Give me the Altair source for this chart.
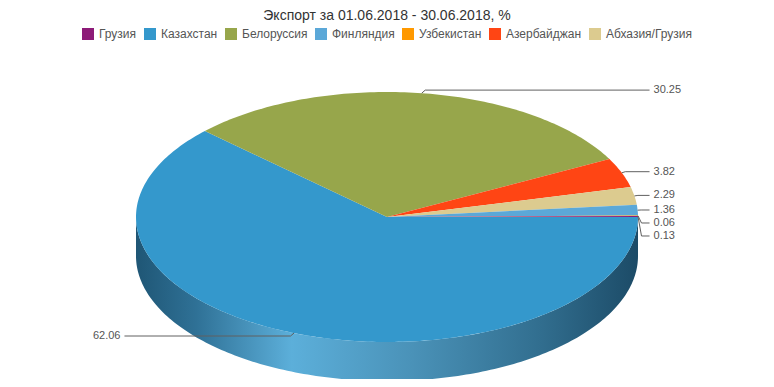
import numpy as np
import pandas as pd
import altair as alt

# ---------------- data ----------------
title_text = "Экспорт за 01.06.2018 - 30.06.2018, %"
categories = ["Грузия", "Казахстан", "Белоруссия", "Финляндия",
              "Узбекистан", "Азербайджан", "Абхазия/Грузия"]
values = [0.13, 62.06, 30.25, 1.36, 0.06, 3.82, 2.29]
colors = ["#8d1b78", "#3498cc", "#97a64b", "#5ba8d8",
          "#ff9900", "#ff4514", "#dccb8f"]
# order of the slices clockwise from 3 o'clock, as drawn in the pie
pie_order = ["Казахстан", "Белоруссия", "Азербайджан", "Абхазия/Грузия",
             "Финляндия", "Узбекистан", "Грузия"]

# ---------------- layout constants ----------------
W, H = 758, 371
CX, CY, RX, RY = 379, 209, 251, 125      # ellipse of the top face (px)
DEPTH = 39 / RY                          # side height in y units
START = 90.0                             # compass degrees (3 o'clock)
LABEL_GAP = 13 / RY                      # min spacing between labels
X_DOMAIN = [-CX / RX, (W - CX) / RX]
Y_DOMAIN = [-(H - CY) / RY, CY / RY]
FONT = "Liberation Sans"

val = dict(zip(categories, values))
total = sum(values)

face_rows, side_rows, lab_rows = [], [], []
a0 = START
for cat in pie_order:
    span = val[cat] / total * 360.0
    a1 = a0 + span
    n = int(np.ceil(span)) + 2
    angs = np.radians(np.linspace(a0, a1, n))
    pts = [(0.0, 0.0)] + [(np.sin(a), np.cos(a)) for a in angs] + [(0.0, 0.0)]
    for i, (x, y) in enumerate(pts):
        face_rows.append({"country": cat, "i": i, "x": x, "y": y})
    s0, s1 = max(a0, 90.0), min(a1, 270.0)
    if s1 > s0:
        for a in np.radians(np.linspace(s0, s1, int(np.ceil(s1 - s0)) + 2)):
            side_rows.append({"country": cat, "sx": float(np.sin(a)),
                              "top": float(np.cos(a)),
                              "bottom": float(np.cos(a) - DEPTH)})
    m = np.radians((a0 + a1) / 2)
    lab_rows.append({"country": cat, "label": f"{val[cat]:.2f}",
                     "ax": np.sin(m), "ay": np.cos(m),
                     "side": "right" if np.sin(m) >= 0 else "left"})
    a0 = a1

labels = pd.DataFrame(lab_rows)
labels["ly"] = labels["ay"] * 1.025
# spread the labels on each side so they do not overlap
for s in ["right", "left"]:
    idx = labels[labels["side"] == s].sort_values("ay", ascending=False).index
    prev = None
    for k in idx:
        if prev is not None:
            labels.loc[k, "ly"] = min(labels.loc[k, "ly"], prev - LABEL_GAP)
        prev = labels.loc[k, "ly"]
labels["dir"] = np.where(labels["side"] == "right", 1.0, -1.0)
labels["lx"] = labels["dir"] * 1.062

conn_rows = []
for rec in labels.to_dict("records"):
    d = rec["dir"]
    pts = [(rec["ax"], rec["ay"]), (rec["ax"] + d * 0.014, rec["ly"]), (d * 1.046, rec["ly"])]
    for i, (x, y) in enumerate(pts):
        conn_rows.append({"country": rec["country"], "i": i, "x": x, "y": y})

faces = pd.DataFrame(face_rows)
sides = pd.DataFrame(side_rows)
conns = pd.DataFrame(conn_rows)

xs = alt.Scale(domain=X_DOMAIN, nice=False, zero=False)
ys = alt.Scale(domain=Y_DOMAIN, nice=False, zero=False)


def X(f):
    return alt.X(f, type="quantitative", scale=xs, axis=None)


def Y(f):
    return alt.Y(f, type="quantitative", scale=ys, axis=None)


side_grad = alt.Gradient(
    gradient="linear", x1=0, x2=1, y1=0, y2=0,
    stops=[alt.GradientStop(offset=0.0, color="#1f5675"),
           alt.GradientStop(offset=0.12, color="#2f7196"),
           alt.GradientStop(offset=0.31, color="#5cafda"),
           alt.GradientStop(offset=0.55, color="#4a92b8"),
           alt.GradientStop(offset=0.8, color="#326f90"),
           alt.GradientStop(offset=1.0, color="#1c4b67")])

side = alt.Chart(sides).mark_area(fill=side_grad, stroke=None).encode(
    x=X("sx"), y=Y("top"), y2=alt.Y2("bottom"))

face = alt.Chart(faces).mark_line(filled=True, strokeWidth=0, interpolate="linear").encode(
    x=X("x"), y=Y("y"), order=alt.Order("i:Q"),
    color=alt.Color("country:N", scale=alt.Scale(domain=categories, range=colors),
                    legend=alt.Legend(orient="none", legendX=74, legendY=20,
                                      direction="horizontal", columns=7, title=None,
                                      symbolType="square", symbolSize=144,
                                      symbolStrokeWidth=0, labelFontSize=12,
                                      labelColor="#555555", labelFont=FONT,
                                      columnPadding=7, labelOffset=5, padding=0)))

conn = alt.Chart(conns).mark_line(color="#606060", strokeWidth=1).encode(
    x=X("x"), y=Y("y"), detail="country:N", order=alt.Order("i:Q"))

txt_r = alt.Chart(labels[labels["side"] == "right"]).mark_text(
    align="left", baseline="middle", fontSize=11, font=FONT, color="#555555").encode(
    x=X("lx"), y=Y("ly"), text="label:N")
txt_l = alt.Chart(labels[labels["side"] == "left"]).mark_text(
    align="right", baseline="middle", fontSize=11, font=FONT, color="#555555").encode(
    x=X("lx"), y=Y("ly"), text="label:N")

title = alt.Chart(pd.DataFrame({"t": [title_text]})).mark_text(
    align="center", baseline="alphabetic", fontSize=14, font=FONT, color="#333333").encode(
    x=alt.value(W / 2), y=alt.value(12), text="t:N")

chart = alt.layer(side, face, conn, txt_r, txt_l, title).properties(
    width=W, height=H, autosize=alt.AutoSizeParams(type="none"), padding=0
).configure(background="white", view=alt.ViewConfig(stroke=None))

chart.save("out.html", embed_options={"renderer": "svg", "actions": False})
